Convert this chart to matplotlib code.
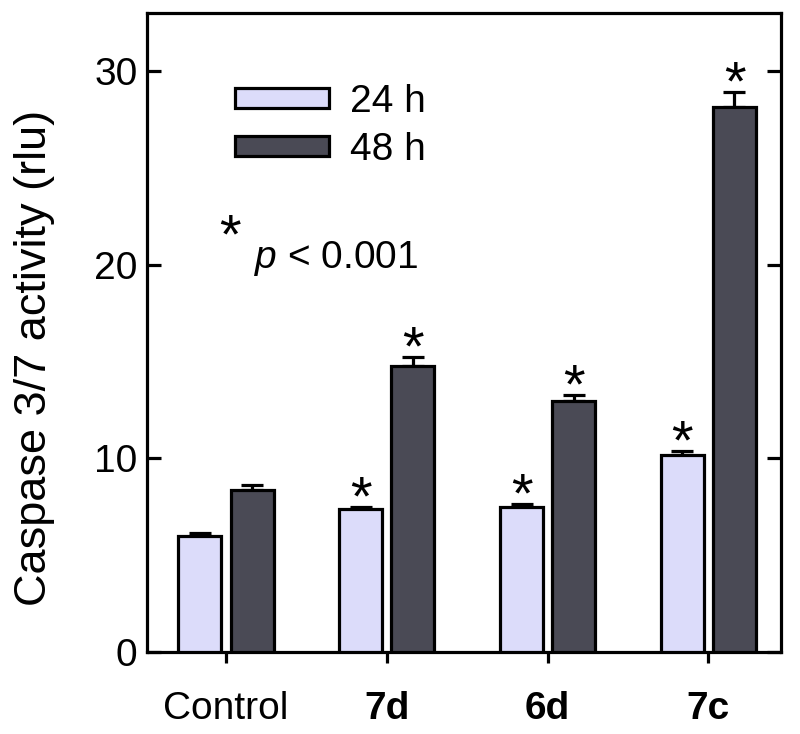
import numpy as np
import matplotlib
matplotlib.use('Agg')
import matplotlib.pyplot as plt

plt.rcParams['font.family'] = ['Liberation Sans', 'DejaVu Sans']
plt.rcParams['mathtext.fontset'] = 'custom'
plt.rcParams['mathtext.rm'] = 'Liberation Sans'
plt.rcParams['mathtext.it'] = 'Liberation Sans:italic'

groups = ['Control', '7d', '6d', '7c']
series = ['24 h', '48 h']
vals_24 = [6.0, 7.4, 7.5, 10.15]
err_24 = [0.12, 0.1, 0.15, 0.25]
vals_48 = [8.35, 14.75, 12.95, 28.15]
err_48 = [0.25, 0.5, 0.3, 0.8]
sig_24 = [False, True, True, True]   # p < 0.001
sig_48 = [False, True, True, True]

c24 = '#dcdcfa'
c48 = '#4a4a55'

fig = plt.figure(figsize=(8, 7.34), dpi=100)
ax = fig.add_axes([0.184, 0.112, 0.792, 0.870])

x = np.arange(len(groups))
w = 0.267
off = 0.162
lw = 2.3
fs = 28

ax.bar(x - off, vals_24, w, color=c24, edgecolor='black', linewidth=lw, label=series[0], zorder=3)
ax.bar(x + off, vals_48, w, color=c48, edgecolor='black', linewidth=lw, label=series[1], zorder=3)

# only the upper half of the error bars
ax.errorbar(x - off, vals_24, yerr=[np.zeros(4), err_24], fmt='none', ecolor='black',
            elinewidth=lw, capsize=8, capthick=lw, zorder=2)
ax.errorbar(x + off, vals_48, yerr=[np.zeros(4), err_48], fmt='none', ecolor='black',
            elinewidth=lw, capsize=8, capthick=lw, zorder=2)

for xs, v, e, s in zip(x - off, vals_24, err_24, sig_24):
    if s:
        ax.annotate('*', (xs, v + e), xytext=(0, -14), textcoords='offset points',
                    ha='center', va='bottom', fontsize=40)
for xs, v, e, s in zip(x + off, vals_48, err_48, sig_48):
    if s:
        ax.annotate('*', (xs, v + e), xytext=(0, -14), textcoords='offset points',
                    ha='center', va='bottom', fontsize=40)

ax.set_xlim(-0.49, 3.45)
ax.set_ylim(0, 33)
ax.set_yticks([0, 10, 20, 30])
ax.set_xticks(x)
ax.set_xticklabels(groups, fontsize=fs)
for lab in ax.get_xticklabels()[1:]:
    lab.set_fontweight('bold')
ax.tick_params(axis='y', direction='in', length=10, width=lw, labelsize=fs, right=True, pad=7)
ax.tick_params(axis='x', direction='out', length=8, width=lw, pad=20)
for sp in ax.spines.values():
    sp.set_linewidth(lw)

ax.set_ylabel('Caspase 3/7 activity (rlu)', fontsize=32.5)
ax.yaxis.set_label_coords(-0.145, 0.46)

ax.legend(loc='upper left', bbox_to_anchor=(0.139, 0.889), frameon=False, fontsize=fs,
          handlelength=2.4, handleheight=0.42, handletextpad=0.54, labelspacing=0.3,
          borderpad=0, borderaxespad=0)

ax.text(0.113, 0.606, '*', transform=ax.transAxes, fontsize=40, ha='left', va='bottom')
ax.text(0.168, 0.585, r'$p$ < 0.001', transform=ax.transAxes, fontsize=fs, ha='left', va='bottom')

plt.savefig('out.png', dpi=100)
